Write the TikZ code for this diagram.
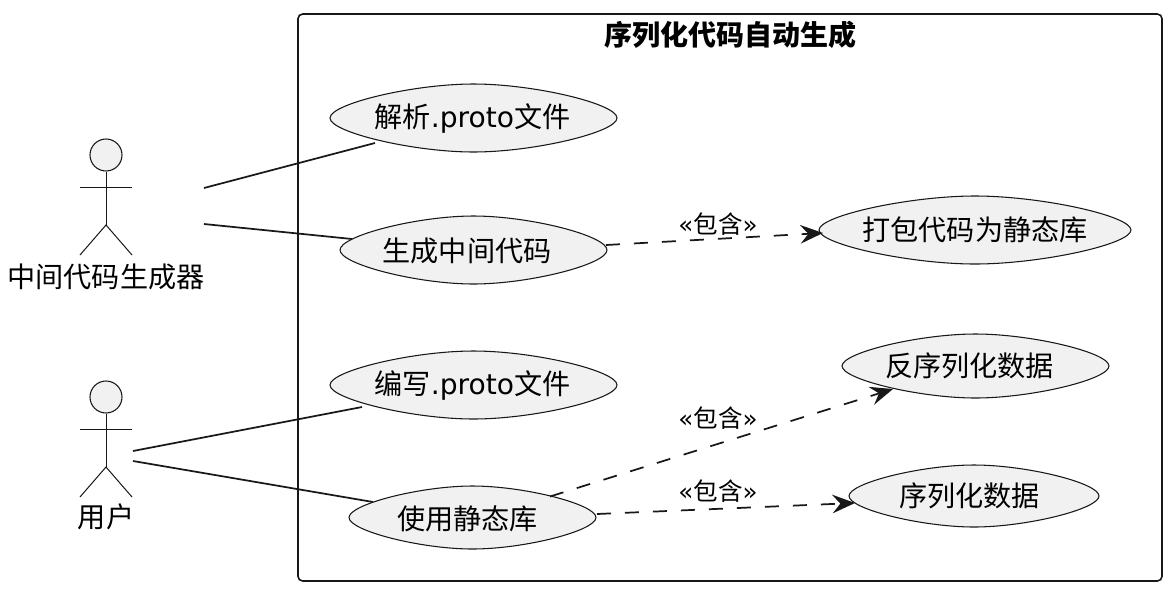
\documentclass[tikz,border=0pt]{standalone}
\usepackage{fontspec}
\setmainfont{Noto Sans CJK SC}
\newfontfamily\latinface{DejaVu Sans}
\usetikzlibrary{arrows.meta}
\definecolor{ink}{HTML}{181818}
\definecolor{usefill}{HTML}{F1F1F1}
\tikzset{
  x=0.75pt,y=-0.75pt,
  lens/.style={draw=ink,fill=usefill,line width=0.8pt},
  anchorbox/.style={inner sep=0pt,minimum size=0pt},
  usetext/.style={font=\fontsize{21.1pt}{24pt}\selectfont,text=black,inner sep=0pt},
  frame/.style={draw=ink,line width=1.2pt,rounded corners=3.5pt},
  title/.style={font=\fontsize{21pt}{24pt}\selectfont\bfseries,text=black,inner sep=0pt},
  actorline/.style={draw=ink,line width=0.75pt},
  actorlabel/.style={font=\fontsize{21.1pt}{24pt}\selectfont,text=black,inner sep=0pt},
  assoc/.style={draw=ink,line width=1.3pt},
  incl/.style={draw=ink,line width=1.3pt,dash pattern=on 10.5pt off 10.5pt,-{Stealth[length=17pt,width=14pt,inset=6pt]}},
  incllabel/.style={font=\fontsize{18.4pt}{20pt}\selectfont,text=black,inner sep=0pt},
}
% name, cx, cy, half width, half height, text x, text y, text
\newcommand{\usecasenode}[8]{%
  \path[lens,shift={(#2,#3)}] ({-#4},0)
    .. controls ({-#4},{-0.42*#5}) and ({-0.42*#4},{-#5}) .. (0,{-#5})
    .. controls ({0.42*#4},{-#5}) and ({#4},{-0.42*#5}) .. ({#4},0)
    .. controls ({#4},{0.42*#5}) and ({0.42*#4},{#5}) .. (0,{#5})
    .. controls ({-0.42*#4},{#5}) and ({-#4},{0.42*#5}) .. ({-#4},0) -- cycle;
  \node[anchorbox] (#1) at (#2,#3) {};
  \node[usetext] (#1t) at (#6,#7) {#8};
}
\newcommand{\lat}[1]{{\latinface #1}}
\begin{document}
\begin{tikzpicture}
\useasboundingbox (0,0) rectangle (1170,590);
\node[frame,minimum width=648pt,minimum height=425.25pt,inner sep=0pt] (sys) at (730,297.5) {};
\node[title] (systitle) at (730,35) {序列化代码自动生成};

\usecasenode{e1}{473.5}{118}{143.5}{34}{472.5}{118.5}{解析\lat{.proto}文件}
\usecasenode{e2}{473.5}{250}{133.5}{34}{467}{250.5}{生成中间代码}
\usecasenode{e3}{975}{230}{156}{34}{975}{229.5}{打包代码为静态库}
\usecasenode{e4}{473.5}{385}{143.5}{34}{472.5}{385.5}{编写\lat{.proto}文件}
\usecasenode{e5}{975.5}{366}{133.5}{32}{969.5}{365.5}{反序列化数据}
\usecasenode{e6}{472.5}{517.5}{123.5}{31.5}{467.5}{518.5}{使用静态库}
\usecasenode{e7}{974}{496}{125}{31}{969.5}{495.5}{序列化数据}

% actor 1
\node[circle,draw=ink,fill=usefill,line width=0.8pt,minimum size=24pt,inner sep=0pt] (h1) at (106,155) {};
\coordinate (w1) at (106,225);
\coordinate (al1) at (80,187);
\coordinate (ar1) at (132,187);
\coordinate (fl1) at (80,255);
\coordinate (fr1) at (132,255);
\draw[actorline] (h1) -- (w1);
\draw[actorline] (al1) -- (ar1);
\draw[actorline] (fl1) -- (w1) -- (fr1);
\node[actorlabel] (a1) at (106,277) {中间代码生成器};

% actor 2
\node[circle,draw=ink,fill=usefill,line width=0.8pt,minimum size=24pt,inner sep=0pt] (h2) at (106,397) {};
\coordinate (w2) at (106,467);
\coordinate (al2) at (80,429);
\coordinate (ar2) at (132,429);
\coordinate (fl2) at (80,497);
\coordinate (fr2) at (132,497);
\draw[actorline] (h2) -- (w2);
\draw[actorline] (al2) -- (ar2);
\draw[actorline] (fl2) -- (w2) -- (fr2);
\node[actorlabel] (a2) at (106,517) {用户};

% associations
\coordinate (s1) at (204,188);
\coordinate (s2) at (204,224);
\coordinate (s3) at (133,451);
\coordinate (s4) at (133,461);
\draw[assoc] (s1) -- ([shift={(-98.5,25)}]e1.center);
\draw[assoc] (s2) -- ([shift={(-121.5,-11)}]e2.center);
\draw[assoc] (s3) -- ([shift={(-111.5,22)}]e4.center);
\draw[assoc] (s4) -- ([shift={(-99.5,-15.5)}]e6.center);

% includes
\draw[incl] ([shift={(132.5,-5)}]e2.center) -- ([shift={(-152,3)}]e3.center);
\draw[incl] ([shift={(77.5,-21)}]e6.center) -- ([shift={(-82.5,23)}]e5.center);
\draw[incl] ([shift={(124.5,-3.5)}]e6.center) -- ([shift={(-119,7)}]e7.center);
\node[incllabel] (l1) at (718,224) {\lat{«}包含\lat{»}};
\node[incllabel] (l2) at (718,418) {\lat{«}包含\lat{»}};
\node[incllabel] (l3) at (718,491) {\lat{«}包含\lat{»}};
\end{tikzpicture}
\end{document}
